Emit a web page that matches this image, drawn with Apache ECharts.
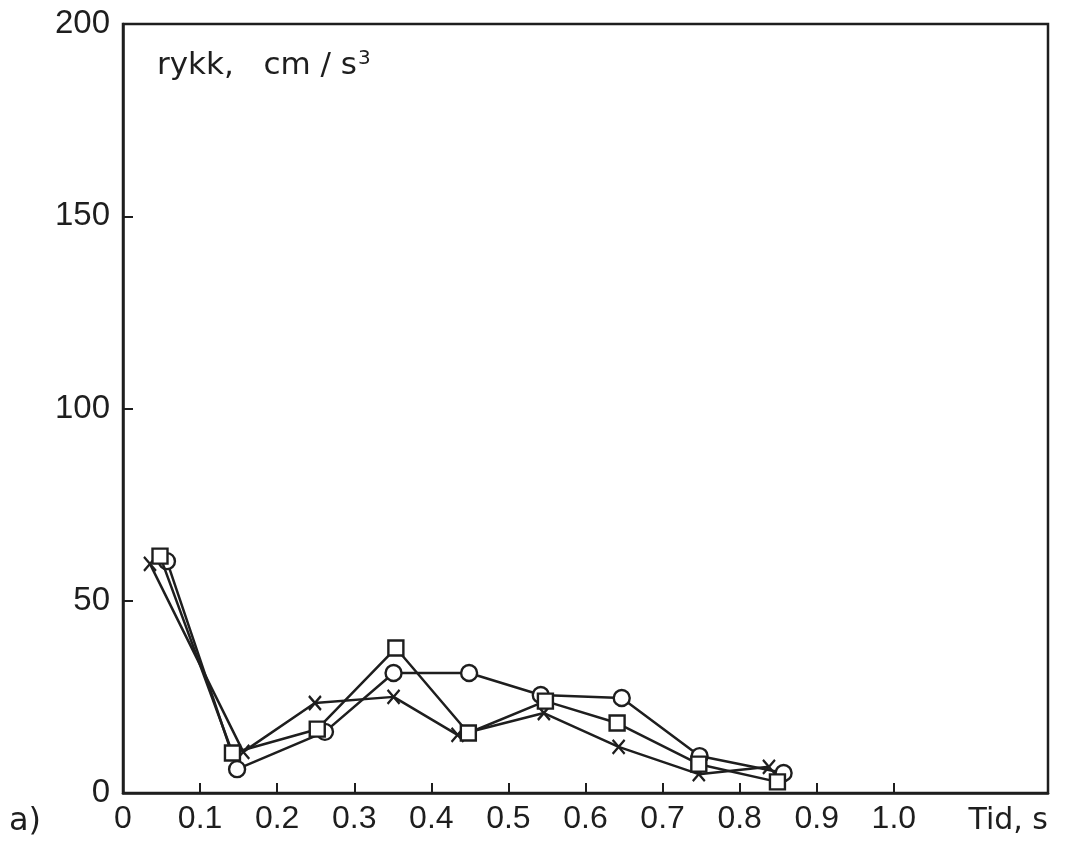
<!DOCTYPE html>
<html>
<head>
<meta charset="utf-8">
<script src="https://cdn.jsdelivr.net/npm/echarts@6/dist/echarts.min.js"></script>
<style>
  html, body { margin: 0; padding: 0; background: #fff; }
  #chart { width: 1066px; height: 842px; }
</style>
</head>
<body>
<div id="chart"></div>
<script>
// Jerk (rykk) against time for three runs: circles, squares, crosses.
const timeCircle = [0.057, 0.148, 0.262, 0.351, 0.449, 0.542, 0.647, 0.748, 0.857];
const rykkCircle = [60.3, 6.2, 15.9, 31.2, 31.2, 25.5, 24.7, 9.6, 5.2];

const timeSquare = [0.048, 0.142, 0.252, 0.354, 0.448, 0.548, 0.641, 0.747, 0.849];
const rykkSquare = [61.6, 10.4, 16.6, 37.7, 15.6, 23.9, 18.2, 7.5, 2.9];

const timeCross = [0.035, 0.156, 0.249, 0.351, 0.434, 0.546, 0.643, 0.747, 0.838];
const rykkCross = [59.6, 10.7, 23.4, 25.0, 15.1, 20.8, 12.0, 4.9, 6.8];

const xTickValues = [0.1, 0.2, 0.3, 0.4, 0.5, 0.6, 0.7, 0.8, 0.9, 1.0];
const xLabelValues = [0, 0.1, 0.2, 0.3, 0.4, 0.5, 0.6, 0.7, 0.8, 0.9, 1.0];
const yTickValues = [50, 100, 150];
const yLabelValues = [0, 50, 100, 150, 200];

const INK = '#1e1e1e';
const FONT = '"Liberation Sans", Arial, sans-serif';
const WIDE = '"DejaVu Sans", sans-serif';

const pairs = (xs, ys) => xs.map((x, i) => [x, ys[i]]);

const crossPath = 'path://M0,0L10,12M10,0L0,12';

const chart = echarts.init(document.getElementById('chart'), null, { renderer: 'canvas' });

chart.setOption({
  backgroundColor: '#ffffff',
  animation: false,
  grid: {
    left: 123, right: 18, top: 24, bottom: 49,
    show: true, borderColor: INK, borderWidth: 2.5, backgroundColor: 'transparent'
  },
  xAxis: {
    type: 'value', min: 0, max: 1.2, interval: 0.1,
    splitLine: { show: false },
    axisLine: { show: true, onZero: false, lineStyle: { color: INK, width: 2.5 } },
    axisTick: { show: true, inside: true, length: 10, customValues: xTickValues,
                lineStyle: { color: INK, width: 2 } },
    axisLabel: {
      customValues: xLabelValues,
      margin: 10,
      color: INK, fontFamily: FONT, fontSize: 32,
      formatter: v => (v === 0 ? '0' : v.toFixed(1))
    }
  },
  yAxis: {
    type: 'value', min: 0, max: 200, interval: 50,
    splitLine: { show: false },
    axisLine: { show: true, lineStyle: { color: INK, width: 2.5 } },
    axisTick: { show: true, inside: true, length: 10, customValues: yTickValues,
                lineStyle: { color: INK, width: 2 } },
    axisLabel: {
      customValues: yLabelValues,
      margin: 13,
      color: INK, fontFamily: FONT, fontSize: 33
    }
  },
  graphic: [
    {
      type: 'text', left: 157, top: 49,
      style: {
        text: 'rykk,   cm / s{sup|3}',
        fill: INK, font: '31px ' + WIDE,
        rich: { sup: { fontSize: 20, fontFamily: WIDE, fill: INK, verticalAlign: 'top', padding: [0, 0, 14, 1] } }
      }
    },
    {
      type: 'text', right: 18, top: 806,
      style: { text: 'Tid, s', fill: INK, font: '30px ' + WIDE }
    },
    {
      type: 'text', left: 9, top: 806,
      style: { text: 'a)', fill: INK, font: '32px ' + WIDE }
    }
  ],
  series: [
    {
      name: 'kryss', type: 'line',
      data: pairs(timeCross, rykkCross),
      symbol: crossPath, symbolSize: [12, 14],
      showAllSymbol: true,
      lineStyle: { color: INK, width: 2.5 },
      itemStyle: { color: 'none', borderColor: INK, borderWidth: 2.4 },
      z: 2
    },
    {
      name: 'sirkel', type: 'line',
      data: pairs(timeCircle, rykkCircle),
      symbol: 'circle', symbolSize: 16,
      showAllSymbol: true,
      lineStyle: { color: INK, width: 2.5 },
      itemStyle: { color: '#ffffff', borderColor: INK, borderWidth: 2.4 },
      z: 3
    },
    {
      name: 'kvadrat', type: 'line',
      data: pairs(timeSquare, rykkSquare),
      symbol: 'rect', symbolSize: 15,
      showAllSymbol: true,
      lineStyle: { color: INK, width: 2.5 },
      itemStyle: { color: '#ffffff', borderColor: INK, borderWidth: 2.4 },
      z: 4
    }
  ]
});
</script>
</body>
</html>
